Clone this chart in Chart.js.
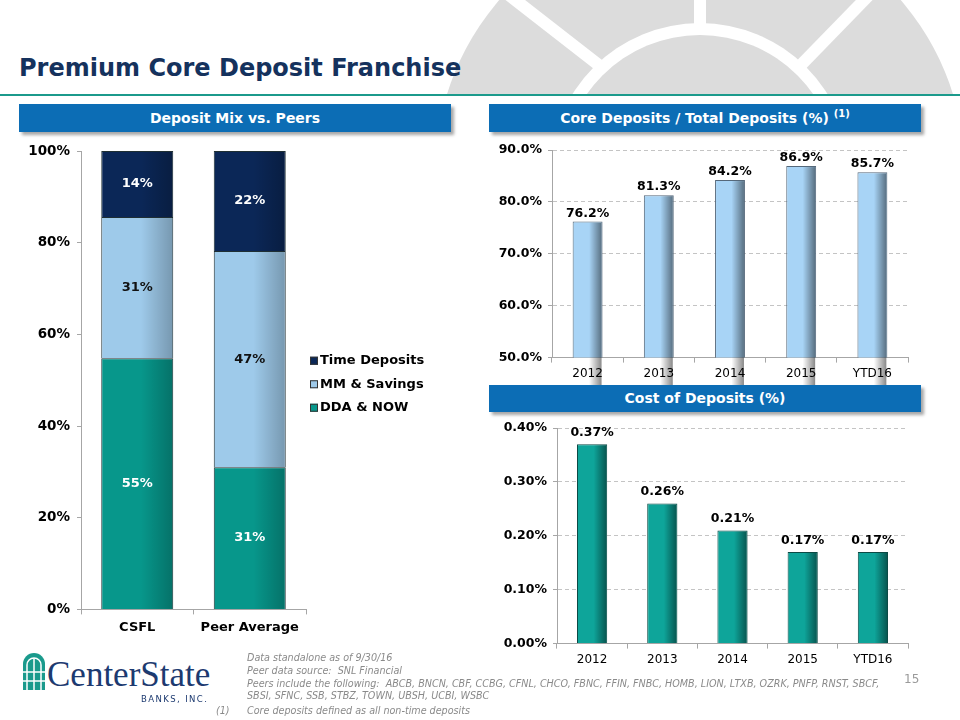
<!DOCTYPE html>
<html lang="en">
<head>
<meta charset="UTF-8" />
<title>Premium Core Deposit Franchise</title>
<script src="https://cdn.jsdelivr.net/npm/chart.js"></script>
<style>
  body { margin:0; width:960px; height:720px; position:relative; overflow:hidden; background:#fff; font-family:"DejaVu Sans", Verdana, sans-serif; }
  .abs { position:absolute; }
  .title { left:19px; top:54px; font-size:24px; font-weight:bold; color:#15325d; white-space:nowrap; }
  .rule { left:0; top:94px; width:960px; height:2px; background:#1b9a8c; }
  .hdr { position:absolute; background:#0c6db5; color:#fff; font-weight:bold; font-size:14px; text-align:center; height:28px; line-height:28px; box-shadow:3px 3px 3px rgba(0,0,0,0.35); }
  .hdr sup { font-size:10px; line-height:0; vertical-align:6px; }
  .notes { left:247px; top:652px; font-size:9.6px; font-style:italic; color:#8a8a8a; line-height:12.8px; white-space:nowrap; }
  .fn { top:705px; font-size:9.6px; font-style:italic; color:#8a8a8a; white-space:nowrap; }
  .page { left:904px; top:672px; font-size:12px; color:#9a9a9a; }
  .logo { left:47px; top:655px; font-family:"Liberation Serif", "Times New Roman", serif; font-size:35px; color:#1d3a70; white-space:nowrap; }
  .banks { left:141px; top:694px; font-size:8.5px; color:#1d3a70; letter-spacing:1.4px; white-space:nowrap; }
</style>
</head>
<body>
  <!-- background emblem -->
  <svg class="abs" style="left:0;top:0" width="960" height="95">
    <circle cx="700" cy="173" r="265" fill="#dcdcdc"/>
    <circle cx="700" cy="173" r="150" fill="#fff"/>
    <circle cx="700" cy="173" r="138" fill="#dcdcdc"/>
    <line x1="700" y1="-5" x2="700" y2="30" stroke="#fff" stroke-width="12"/>
    <line x1="600" y1="66" x2="505" y2="-8" stroke="#fff" stroke-width="12"/>
    <line x1="800" y1="66" x2="872" y2="-8" stroke="#fff" stroke-width="12"/>
  </svg>

  <div class="abs title">Premium Core Deposit Franchise</div>
  <div class="abs rule"></div>

  <div class="hdr" style="left:19px;top:104px;width:432px;">Deposit Mix vs. Peers</div>
  <div class="hdr" style="left:489px;top:104px;width:432px;">Core Deposits / Total Deposits (%) <sup>(1)</sup></div>
  <div class="hdr" style="left:489px;top:385px;width:432px;height:27px;line-height:27px;">Cost of Deposits (%)</div>

  <div class="abs" style="left:0;top:136px;width:440px;height:504px;"><canvas id="mixChart"></canvas></div>
  <div class="abs" style="left:480px;top:135px;width:440px;height:250px;"><canvas id="coreChart"></canvas></div>
  <div class="abs" style="left:480px;top:410px;width:440px;height:262px;"><canvas id="costChart"></canvas></div>

  <!-- logo -->
  <svg class="abs" style="left:22px;top:650px" width="24" height="40">
    <path d="M1 40 V14 A11 11 0 0 1 23 14 V40 Z" fill="#1a9a8c"/>
    <path d="M5 40 V15 A7 7 0 0 1 19 15 V40" fill="none" stroke="#fff" stroke-width="1.5"/>
    <line x1="12" y1="8" x2="12" y2="40" stroke="#fff" stroke-width="1.5"/>
    <line x1="1" y1="22" x2="23" y2="22" stroke="#fff" stroke-width="1.5"/>
    <line x1="1" y1="31" x2="23" y2="31" stroke="#fff" stroke-width="1.5"/>
  </svg>
  <div class="abs logo">CenterState</div>
  <div class="abs banks">BANKS, INC.</div>

  <div class="abs notes">
    Data standalone as of 9/30/16<br>
    Peer data source:&nbsp; SNL Financial<br>
    Peers include the following:&nbsp; ABCB, BNCN, CBF, CCBG, CFNL, CHCO, FBNC, FFIN, FNBC, HOMB, LION, LTXB, OZRK, PNFP, RNST, SBCF,<br>
    SBSI, SFNC, SSB, STBZ, TOWN, UBSH, UCBI, WSBC
  </div>
  <div class="abs fn" style="left:216px;">(1)</div>
  <div class="abs fn" style="left:247px;">Core deposits defined as all non-time deposits</div>
  <div class="abs page">15</div>

  <script>
    // Deposit mix vs peers (% of total deposits)
    const mixCategories = ['CSFL', 'Peer Average'];
    const ddaNow = [54.8, 31.0];
    const mmSavings = [30.8, 47.2];
    const timeDeposits = [14.4, 21.8];

    // Core deposits / total deposits
    const years = ['2012', '2013', '2014', '2015', 'YTD16'];
    const coreRatio = [76.2, 81.3, 84.2, 86.9, 85.7];

    // Cost of deposits
    const costOfDeposits = [0.37, 0.26, 0.21, 0.17, 0.17];

    const FONT = '"DejaVu Sans", Verdana, sans-serif';
    Chart.defaults.font.family = FONT;
    Chart.defaults.color = '#000';
    Chart.defaults.animation = false;

    // shade right edge of each bar + draw value labels
    const barDecor = {
      id: 'barDecor',
      afterDatasetsDraw(chart, args, opts) {
        const ctx = chart.ctx;
        chart.data.datasets.forEach((ds, di) => {
          const meta = chart.getDatasetMeta(di);
          meta.data.forEach((bar, i) => {
            const p = bar.getProps(['x', 'y', 'base', 'width'], true);
            const top = Math.min(p.y, p.base), bottom = Math.max(p.y, p.base);
            const x0 = p.x - p.width / 2, x1 = p.x + p.width / 2;
            const g = ctx.createLinearGradient(x0 + p.width * 0.55, 0, x1, 0);
            g.addColorStop(0, 'rgba(0,0,0,0)');
            g.addColorStop(1, 'rgba(0,0,0,' + opts.shade + ')');
            ctx.save();
            ctx.fillStyle = g;
            ctx.fillRect(x0 + p.width * 0.55, top + 1, p.width * 0.45 - 1, bottom - top - 1);
            ctx.restore();

            const v = ds.data[i];
            ctx.save();
            ctx.font = 'bold ' + opts.size + 'px ' + FONT;
            ctx.textAlign = 'center';
            if (opts.inside) {
              ctx.fillStyle = opts.colors[di];
              ctx.textBaseline = 'middle';
              ctx.fillText(opts.format(v), p.x, (top + bottom) / 2);
            } else {
              ctx.fillStyle = '#000';
              ctx.textBaseline = 'bottom';
              ctx.fillText(opts.format(v), p.x, top - opts.gap);
            }
            ctx.restore();
          });
        });
      }
    };

    // legend to the right of the plot, last series on top
    const sideLegend = {
      id: 'sideLegend',
      afterDraw(chart, args, opts) {
        if (!opts.show) return;
        const ctx = chart.ctx;
        const area = chart.chartArea;
        const sets = chart.data.datasets.slice().reverse();
        const midY = (area.top + area.bottom) / 2 + opts.shift;
        ctx.save();
        ctx.font = 'bold 13px ' + FONT;
        ctx.textBaseline = 'middle';
        sets.forEach((ds, i) => {
          const y = midY + (i - (sets.length - 1) / 2) * opts.spacing;
          const x = area.right + opts.offset;
          ctx.fillStyle = ds.backgroundColor;
          ctx.fillRect(x, y - 4, 8, 8);
          ctx.strokeStyle = '#333';
          ctx.lineWidth = 1;
          ctx.strokeRect(x + 0.5, y - 3.5, 7, 7);
          ctx.fillStyle = '#000';
          ctx.fillText(ds.label, x + 10, y);
        });
        ctx.restore();
      }
    };

    new Chart(document.getElementById('mixChart'), {
      type: 'bar',
      plugins: [barDecor, sideLegend],
      data: {
        labels: mixCategories,
        datasets: [
          { label: 'DDA & NOW', data: ddaNow, backgroundColor: '#07978b' },
          { label: 'MM & Savings', data: mmSavings, backgroundColor: '#9ecaea' },
          { label: 'Time Deposits', data: timeDeposits, backgroundColor: '#0b2757' }
        ]
      },
      options: {
        responsive: true,
        maintainAspectRatio: false,
        layout: { padding: { top: 0, right: 134, bottom: 0 } },
        datasets: { bar: { borderColor: '#1f2f33', borderWidth: 1, barPercentage: 0.64, categoryPercentage: 1 } },
        scales: {
          x: {
            stacked: true,
            border: { color: '#a6a6a6' },
            grid: { offset: true, drawOnChartArea: false, tickLength: 5, color: '#a6a6a6' },
            ticks: { font: { size: 13, weight: 'bold' }, padding: 5 }
          },
          y: {
            stacked: true,
            min: 0, max: 100,
            afterFit: s => { s.width = 81; },
            border: { color: '#a6a6a6' },
            grid: { drawOnChartArea: false, tickLength: 4, color: '#a6a6a6' },
            ticks: { stepSize: 20, font: { size: 13.5, weight: 'bold' }, padding: 7, callback: v => v + '%' }
          }
        },
        plugins: {
          legend: { display: false },
          tooltip: { enabled: false },
          sideLegend: { show: true, offset: 4, spacing: 23.5, shift: 4 },
          barDecor: { inside: true, size: 13, shade: 0.25, colors: ['#fff', '#111', '#fff'], format: v => Math.round(v) + '%' }
        }
      }
    });

    new Chart(document.getElementById('coreChart'), {
      type: 'bar',
      plugins: [barDecor],
      data: {
        labels: years,
        datasets: [{ label: 'Core Deposits / Total Deposits', data: coreRatio, backgroundColor: '#a8d4f6', borderColor: '#55687a', borderWidth: 1 }]
      },
      options: {
        responsive: true,
        maintainAspectRatio: false,
        layout: { padding: { top: 15, right: 12, bottom: 0 } },
        datasets: { bar: { barPercentage: 0.42, categoryPercentage: 1 } },
        scales: {
          x: {
            border: { color: '#a6a6a6' },
            grid: { offset: true, drawOnChartArea: false, tickLength: 5, color: '#a6a6a6' },
            ticks: { font: { size: 12 }, padding: 4 }
          },
          y: {
            min: 50, max: 90,
            afterFit: s => { s.width = 72; },
            border: { color: '#a6a6a6', dash: [4, 3] },
            grid: { color: '#c4c4c4', tickLength: 4, tickColor: '#a6a6a6' },
            ticks: { stepSize: 10, font: { size: 12.5, weight: 'bold' }, padding: 6, callback: v => v.toFixed(1) + '%' }
          }
        },
        plugins: {
          legend: { display: false },
          tooltip: { enabled: false },
          barDecor: { inside: false, size: 12.5, gap: 2, shade: 0.5, format: v => v.toFixed(1) + '%' }
        }
      }
    });

    new Chart(document.getElementById('costChart'), {
      type: 'bar',
      plugins: [barDecor],
      data: {
        labels: years,
        datasets: [{ label: 'Cost of Deposits', data: costOfDeposits, backgroundColor: '#0ea59a', borderColor: '#0b4a45', borderWidth: 1 }]
      },
      options: {
        responsive: true,
        maintainAspectRatio: false,
        layout: { padding: { top: 18, right: 12, bottom: 1 } },
        datasets: { bar: { barPercentage: 0.43, categoryPercentage: 1 } },
        scales: {
          x: {
            border: { color: '#a6a6a6' },
            grid: { offset: true, drawOnChartArea: false, tickLength: 5, color: '#a6a6a6' },
            ticks: { font: { size: 12 }, padding: 4 }
          },
          y: {
            min: 0, max: 0.4,
            afterFit: s => { s.width = 77; },
            border: { color: '#a6a6a6', dash: [4, 3] },
            grid: { color: '#c4c4c4', tickLength: 4, tickColor: '#a6a6a6' },
            ticks: { stepSize: 0.1, font: { size: 12.5, weight: 'bold' }, padding: 6, callback: v => v.toFixed(2) + '%' }
          }
        },
        plugins: {
          legend: { display: false },
          tooltip: { enabled: false },
          barDecor: { inside: false, size: 12.5, gap: 5, shade: 0.5, format: v => v.toFixed(2) + '%' }
        }
      }
    });
  </script>
</body>
</html>
